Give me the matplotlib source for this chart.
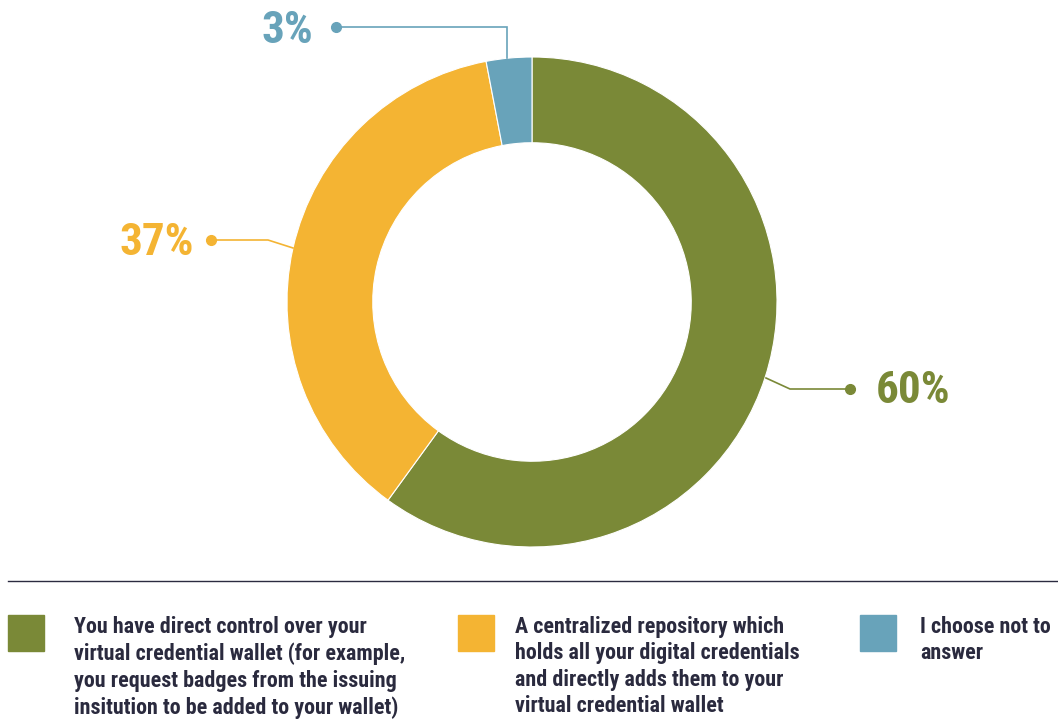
import matplotlib.pyplot as plt
from matplotlib.patches import Rectangle

# data
labels = [
    "You have direct control over your\nvirtual credential wallet (for example,\nyou request badges from the issuing\ninsitution to be added to your wallet)",
    "A centralized repository which\nholds all your digital credentials\nand directly adds them to your\nvirtual credential wallet",
    "I choose not to\nanswer",
]
shares = [60, 37, 3]
pct_text = ["60%", "37%", "3%"]
colors = ["#7A8937", "#F4B433", "#68A3BA"]

W, H = 1058, 719
fig = plt.figure(figsize=(W / 100, H / 100), dpi=100)
ax = fig.add_axes([0, 0, 1, 1])

# donut, y measured from the bottom
cx, cy, r = 532, H - 302, 245
ax.pie(shares, colors=colors, startangle=90, counterclock=False,
       center=(cx, cy), radius=r, frame=True,
       wedgeprops=dict(width=r * 0.35, edgecolor="white", linewidth=0.8))
ax.set_xlim(0, W)
ax.set_ylim(0, H)
ax.axis("off")

fam = ["Roboto Condensed", "Roboto", "DejaVu Sans"]
kw_pct = dict(fontsize=32.5, fontweight="bold", family=fam, va="center")

# leader lines (pixel positions from top)
leaders = [
    ([766, 790, 850], [378, 389, 389]),
    ([293, 268, 211], [248, 240, 240]),
    ([507, 507, 336], [58, 27, 27]),
]
text_pos = [(876, 391, "left"), (194, 243, "right"), (313, 31, "right")]
for (xs, ys), (tx, ty, ha), c, t in zip(leaders, text_pos, colors, pct_text):
    ax.plot(xs, [H - y for y in ys], c=c, lw=1.2, solid_joinstyle="miter")
    ax.plot(xs[-1], H - ys[-1], "o", c=c, ms=7)
    ax.text(tx, H - ty, t, color=c, ha=ha, **kw_pct)

# separator
ax.plot([8, W], [H - 581, H - 581], c="#2b2b40", lw=1)

# legend
sq_x = [8, 458, 860]
txt_x = [74, 515, 920]
for x, tx, c, lab in zip(sq_x, txt_x, colors, labels):
    ax.add_patch(Rectangle((x, H - 651), 36, 36, color=c))
    ax.text(tx, H - 616, lab, ha="left", va="top", fontsize=15.8,
            fontweight="bold", color="#2a2a3e", linespacing=1.26,
            family=fam)

fig.savefig("out.png", dpi=100)
